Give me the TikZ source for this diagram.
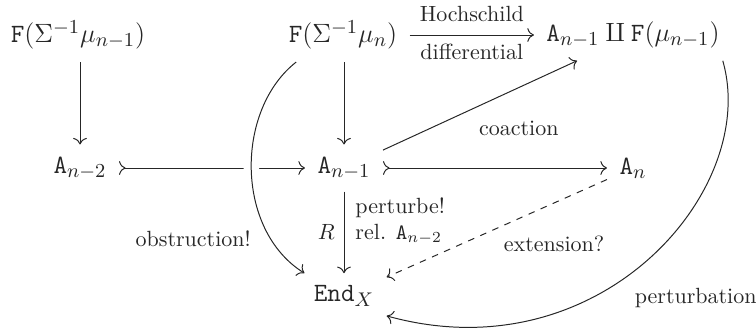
\documentclass[tikz,border=0pt]{standalone}
\usetikzlibrary{arrows.meta}
\definecolor{ink}{gray}{0.15}
\begin{document}
\begin{tikzpicture}[x=0.4545pt,y=-0.4545pt,
  obj/.style={font=\fontsize{12.5}{15}\selectfont, text=ink, inner sep=5.5pt},
  lbl/.style={font=\fontsize{10}{12}\selectfont, text=ink, inner sep=1pt},
  ar/.style={draw=ink, line width=0.45pt, -{To[scale=1.15]}},
  mono/.style={draw=ink, line width=0.45pt, {To[scale=1.15,reversed]}-{To[scale=1.15]}}]
\useasboundingbox (0,0) rectangle (756,332);
\node[obj] (f1) at (78,35) {$\mathtt{F}(\Sigma^{-1}\mu_{n-1})$};
\node[obj] (f2) at (343,35) {$\mathtt{F}(\Sigma^{-1}\mu_{n})$};
\node[obj] (t) at (633,35) {$\mathtt{A}_{n-1}\amalg\mathtt{F}(\mu_{n-1})$};
\node[obj] (a2) at (80,168) {$\mathtt{A}_{n-2}$};
\node[obj] (a1) at (344,168) {$\mathtt{A}_{n-1}$};
\node[obj] (an) at (633,168) {$\mathtt{A}_{n}$};
\node[obj] (e) at (344,296) {$\mathtt{End}_X$};
% arrows
\draw[ar] (a2 |- f1.south) -- (a2.north);
\draw[ar] (f2.south -| a1) -- (a1.north);
\draw[ar] (f2) -- node[lbl, above=5pt] {Hochschild} node[lbl, below=3pt] {differential} (t);
\draw[mono] (a2) -- (a1);
\draw[mono] (a1) -- (an);
\draw[ar] (a1) -- node[lbl, pos=0.7, below=14pt] {coaction} (t);
\draw[ar] (a1) -- node[lbl, left=3pt] {$R$}
  node[lbl, pos=0.36, right=4pt, align=left] {perturbe!\\rel. $\mathtt{A}_{n-2}$} (e);
\draw[ar, dashed] (an) -- node[lbl, pos=0.24, below=14pt] {extension?} (e);
% gap where the obstruction curve crosses
\begin{scope}
\clip (225,150) rectangle (275,185);
\draw[white, line width=7pt] (f2.210) .. controls (235,110) and (235,230) .. (e.150);
\end{scope}
\draw[ar] (f2.210) .. controls (235,110) and (235,230) .. node[lbl, pos=0.8, left=8pt] {obstruction!} (e.150);
\draw[ar] (t.-16) .. controls (760,190) and (600,375) .. node[lbl, pos=0.5, shift={(47,39)}] {perturbation} (e.-25);
\end{tikzpicture}
\end{document}
